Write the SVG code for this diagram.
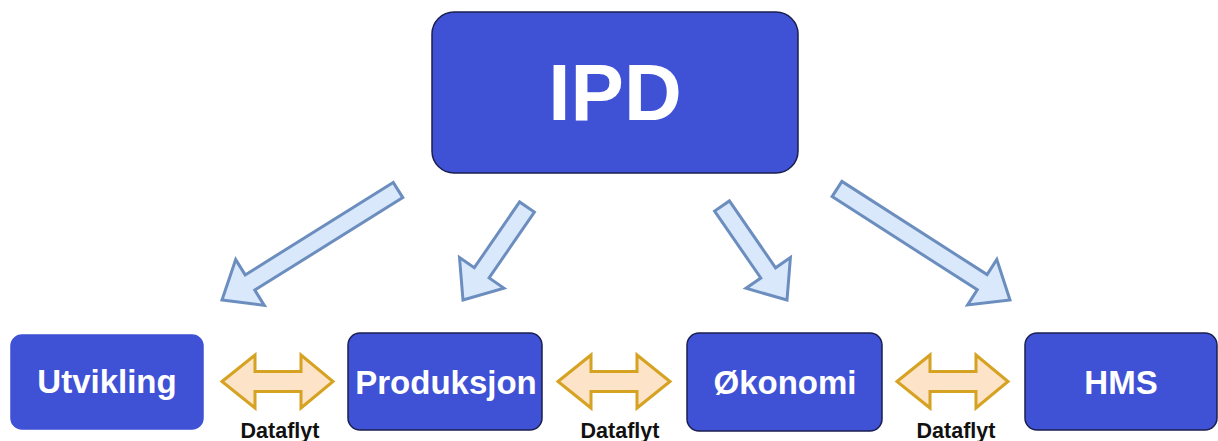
<svg xmlns="http://www.w3.org/2000/svg" width="1218" height="441" viewBox="0 0 1218 441">
<style>
.box{fill:#3F52D6;stroke:#1B1F4F;stroke-width:1.5}
.lbl{font-family:"Liberation Sans",Arial,sans-serif;font-weight:bold;fill:#FFFFFF;text-anchor:middle}
.df{font-family:"Liberation Sans",Arial,sans-serif;font-weight:bold;fill:#111111;font-size:21.5px;text-anchor:middle}
.ba{fill:#DAE8FC;stroke:#6C8EBF;stroke-width:3;stroke-linejoin:miter}
.da{fill:#FDE3C8;stroke:#D6A222;stroke-width:3;stroke-linejoin:miter}
</style>
<rect width="1218" height="441" fill="#FFFFFF"/>
<g id="connectors">
<polygon class="ba" points="393.2,182.4 245.2,274.9 235.7,259.6 222,300 264.3,305.4 254.8,290.1 402.8,197.6"/>
<polygon class="ba" points="519.6,201.9 474.3,267.7 459.5,257.5 463,300 503.9,288.1 489.1,277.9 534.4,212.1"/>
<polygon class="ba" points="714.6,211.1 760.8,278 746,288.3 787,300 790.4,257.5 775.6,267.8 729.4,200.9"/>
<polygon class="ba" points="832.1,196.6 977.3,289.8 967.6,304.9 1010,300 996.8,259.5 987.1,274.6 841.9,181.4"/>
<polygon class="da" points="222,381.5 255,355 255,371.5 301,371.5 301,355 333,381.5 301,408 301,391.5 255,391.5 255,408"/>
<polygon class="da" points="558,381.5 591,355 591,371.5 637,371.5 637,355 670,381.5 637,408 637,391.5 591,391.5 591,408"/>
<polygon class="da" points="897,381.5 930,355 930,371.5 976,371.5 976,355 1008,381.5 976,408 976,391.5 930,391.5 930,408"/>
<text class="df" x="280" y="438">Dataflyt</text>
<text class="df" x="620" y="438">Dataflyt</text>
<text class="df" x="956" y="438">Dataflyt</text>
</g>
<g id="ipd">
<rect class="box" x="432" y="12" width="366" height="161" rx="22"/>
<text class="lbl" x="615" y="120" font-size="80">IPD</text>
</g>
<g id="utvikling">
<rect class="box" x="11" y="335" width="192" height="94" rx="11" style="stroke:#3F52D6"/>
<text class="lbl" x="107" y="393" font-size="33">Utvikling</text>
</g>
<g id="produksjon">
<rect class="box" x="348" y="333" width="194" height="97" rx="12"/>
<text class="lbl" x="446" y="394" font-size="33">Produksjon</text>
</g>
<g id="okonomi">
<rect class="box" x="687" y="333" width="195" height="98" rx="12"/>
<text class="lbl" x="785" y="394" font-size="33">Økonomi</text>
</g>
<g id="hms">
<rect class="box" x="1025" y="333" width="192" height="97" rx="12"/>
<text class="lbl" x="1121" y="394" font-size="33">HMS</text>
</g>
</svg>
